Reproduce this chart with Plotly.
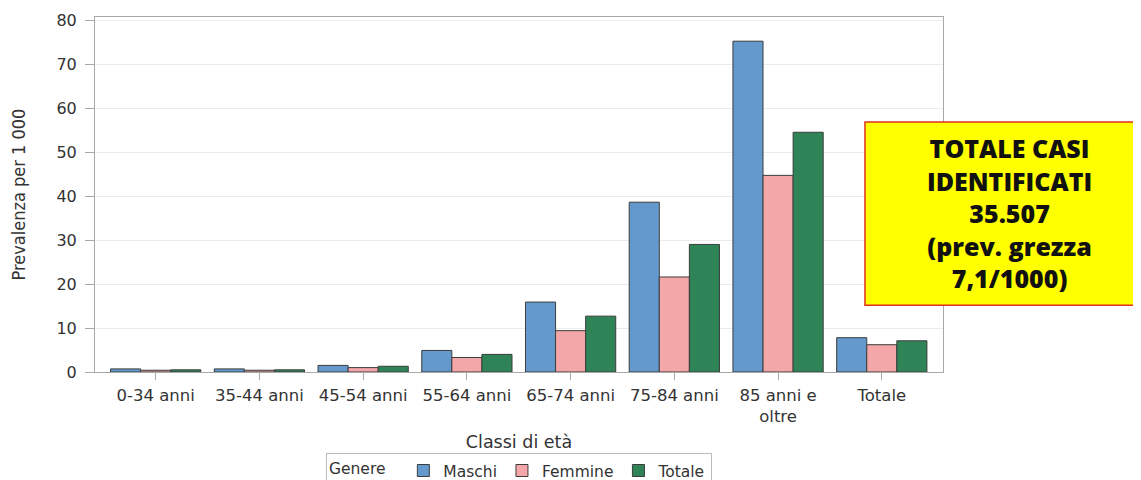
import plotly.graph_objects as go

categories = ["0-34 anni", "35-44 anni", "45-54 anni", "55-64 anni", "65-74 anni",
              "75-84 anni", "85 anni e<br>oltre", "Totale"]
maschi = [0.7, 0.7, 1.5, 4.9, 15.9, 38.6, 75.2, 7.8]
femmine = [0.4, 0.4, 1.0, 3.3, 9.4, 21.6, 44.7, 6.2]
totale = [0.5, 0.5, 1.3, 4.0, 12.7, 29.0, 54.5, 7.1]

series = [("Maschi", maschi, "#6399cc"), ("Femmine", femmine, "#f4a7a9"), ("Totale", totale, "#2f8457")]

fig = go.Figure()
for name, vals, col in series:
    fig.add_trace(go.Bar(x=categories, y=vals, name=name,
                         marker=dict(color=col, line=dict(color="#3c3c3c", width=1))))

font_fam = "DejaVu Sans, sans-serif"
# the page body has an 8px margin, so the figure is sized 8px smaller each way
fig.update_layout(
    width=1133, height=472,
    margin=dict(l=87, r=198, t=9, b=108, autoexpand=False),
    paper_bgcolor="white", plot_bgcolor="white",
    barmode="group", bargap=0.13, bargroupgap=0,
    font=dict(family=font_fam, size=15, color="#333333"),
    xaxis=dict(range=[-0.585, 7.59], showline=True, linecolor="#a8a8a8", mirror=True,
               ticks="outside", ticklen=7, tickcolor="#a8a8a8", ticklabelstandoff=1,
               title=dict(text="Classi di età", font=dict(size=17.5), standoff=10),
               tickfont=dict(size=16.5)),
    yaxis=dict(range=[0, 80.7], showline=True, linecolor="#a8a8a8", mirror=True,
               ticks="outside", ticklen=9, tickcolor="#a8a8a8", ticklabelstandoff=5,
               gridcolor="#ebebeb", dtick=10, zeroline=False,
               title=dict(text="Prevalenza per 1 000",
                          font=dict(size=18, family="DejaVu Sans Condensed, DejaVu Sans, sans-serif"),
                          standoff=27),
               tickfont=dict(size=16)),
    legend=dict(orientation="h", x=0.5, xanchor="center", y=-0.228, yanchor="top",
                title=dict(text="Genere  ", font=dict(size=15.5), side="left"),
                bordercolor="#bbbbbb", borderwidth=1, font=dict(size=15.5),
                itemwidth=30, tracegroupgap=0),
)

fig.add_shape(type="rect", xref="paper", yref="paper", x0=0.908, x1=1.24, y0=0.188, y1=0.704,
              fillcolor="#ffff00", line=dict(color="#e03020", width=1.5), layer="above")
fig.add_annotation(xref="paper", yref="paper", x=1.079, y=0.447, showarrow=False,
                   text="TOTALE CASI<br>IDENTIFICATI<br>35.507<br>(prev. grezza<br>7,1/1000)",
                   font=dict(family="Open Sans, sans-serif", size=25, color="#111111", weight=800),
                   align="center", xanchor="center", yanchor="middle")

fig.write_html("out.html")
